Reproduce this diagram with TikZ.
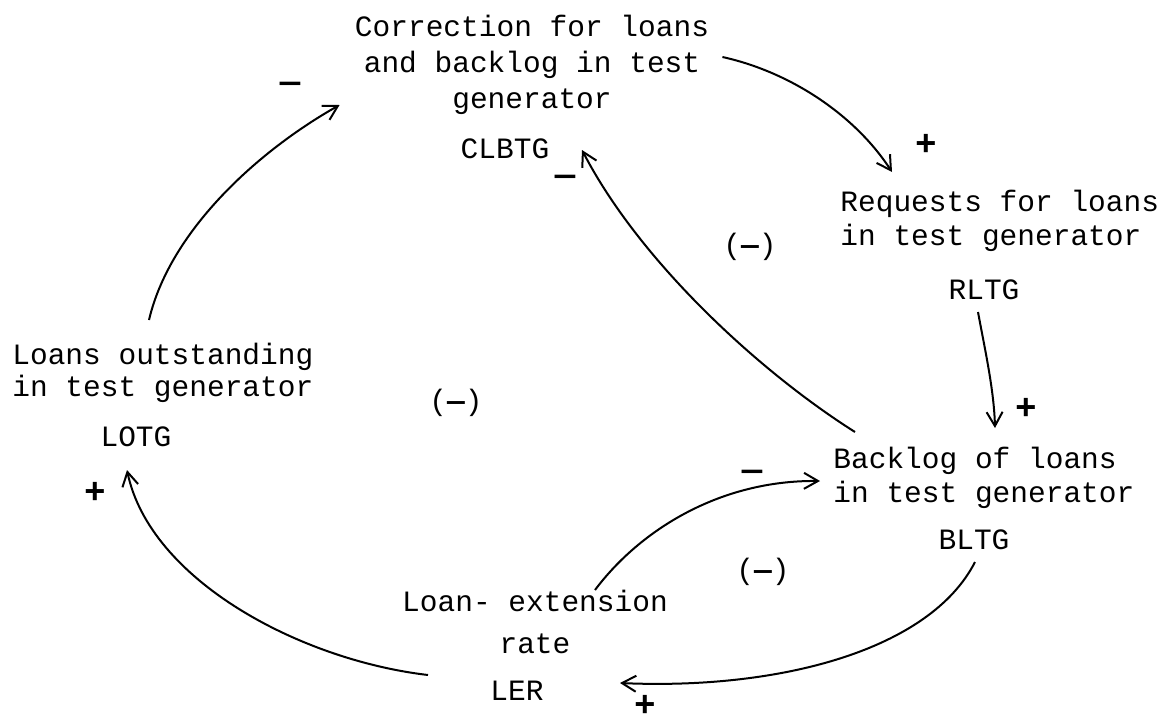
\documentclass[tikz,border=0pt]{standalone}
\usepackage{fontspec}
\newfontfamily\tw{Liberation Mono}
\usetikzlibrary{arrows.meta,calc}
\begin{document}
\begin{tikzpicture}[x=0.5pt,y=-0.5pt,
  txt/.style={font=\tw\fontsize{14.75}{17}\selectfont, inner sep=0pt},
  desc/.style={txt, anchor=north west, align=left},
  abbr/.style={txt},
  loopsign/.style={txt},
  plus/.style={font=\tw\bfseries\fontsize{18}{18}\selectfont, inner sep=0pt},
  minus/.style={font=\tw\bfseries\fontsize{17}{17}\selectfont, inner sep=0pt},
  link/.style={line width=1pt, -{Straight Barb[length=7pt,width=8pt]}}]
\useasboundingbox (0,0) rectangle (1158,723);

% variables: description and abbreviation
\node[txt, anchor=north, align=center] (clbtg) at (532,15)
  {Correction for loans\\[1pt]and backlog in test\\[1pt]generator};
\node[abbr] (clbtgId) at (505,149) {CLBTG};

\node[desc] (rltg) at (840,190) {Requests for loans\\in test generator};
\node[abbr] (rltgId) at (984,290) {RLTG};

\node[desc] (lotg) at (12,343) {Loans outstanding\\[-1pt]in test generator};
\node[abbr] (lotgId) at (136,437) {LOTG};

\node[desc] (bltg) at (833,447) {Backlog of loans\\in test generator};
\node[abbr] (bltgId) at (974,540) {BLTG};

\node[txt, anchor=north, align=center] (ler) at (535,590)
  {Loan- extension\\[4pt]rate};
\node[abbr] (lerId) at (517,691) {LER};

% loop polarities
\node[loopsign] (loopA) at (750,247) {(\textbf{—})};
\node[loopsign] (loopB) at (456,403) {(\textbf{—})};
\node[loopsign] (loopC) at (763,572) {(\textbf{—})};

% link polarities
\node[minus] (sA) at (290,87) {—};
\node[minus] (sB) at (565,180) {—};
\node[minus] (sC) at (752,475) {—};
\node[plus] (sD) at (926,145) {+};
\node[plus] (sE) at (1026,409) {+};
\node[plus] (sF) at (95,493) {+};
\node[plus] (sG) at (645,706) {+};

% causal links
\draw[link] ($(lotg.north west)+(137,-23)$)
  .. controls +(21,-90) and +(-80,45) .. ($(clbtg.north west)+(-15,90)$);
\draw[link] ($(clbtg.north east)+(13,42)$)
  .. controls +(68,15) and +(-37,-57) .. ($(rltg.north west)+(52,-18)$);
\draw[link] ($(rltgId)+(-6,22)$)
  .. controls +(7,38) and +(-1,-38) .. ($(bltg.north west)+(162,-19)$);
\draw[link] ($(bltg.north west)+(22,-15)$)
  .. controls +(-95,-60) and +(58,112) .. ($(clbtgId)+(77,1)$);
\draw[link] ($(ler.north)+(60,0)$)
  .. controls +(45,-60) and +(-100,-1) .. ($(bltg.north west)+(-13,34)$);
\draw[link] ($(bltgId)+(1,22)$)
  .. controls +(-45,88) and +(160,7) .. ($(lerId)+(103,-8)$);
\draw[link] ($(lerId)+(-89,-16)$)
  .. controls +(-128,-15) and +(23,110) .. ($(lotgId)+(-9,33)$);
\end{tikzpicture}
\end{document}
